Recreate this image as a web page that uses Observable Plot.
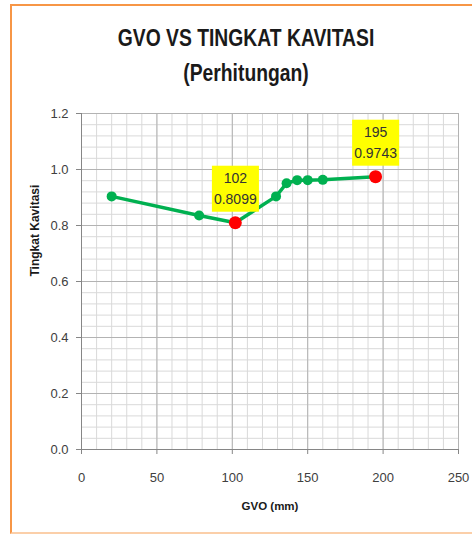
<!DOCTYPE html>
<html>
<head>
<meta charset="utf-8">
<script src="https://cdn.jsdelivr.net/npm/d3@7"></script>
<script src="https://cdn.jsdelivr.net/npm/@observablehq/plot@0.6"></script>
<style>
  html, body { margin: 0; padding: 0; background: #fff; overflow: hidden; }
  #wrap { position: relative; width: 472px; height: 538px; overflow: hidden; }
  #frame { position: absolute; left: 10px; top: 4px; width: 480px; height: 530px;
           border: 2px solid #f79646; border-bottom-color: #fbcfa9; box-sizing: border-box; }
  #chart { position: absolute; left: 0; top: 0; }
  .title { position: absolute; left: 0; width: 492px; text-align: center;
           font-family: "Liberation Sans", sans-serif; font-weight: bold;
           font-size: 23px; color: #1a1a1a; line-height: 1;
           transform: scaleX(0.84); transform-origin: 246px 0; }
</style>
</head>
<body>
<div id="wrap">
  <div id="frame"></div>
  <div id="chart"></div>
  <div class="title" style="top:27px">GVO VS TINGKAT KAVITASI</div>
  <div class="title" style="top:62px">(Perhitungan)</div>
</div>
<script>
const gvo = [20, 78, 102, 129, 136, 143, 150, 160, 195];
const tingkat = [0.904, 0.836, 0.8099, 0.904, 0.951, 0.962, 0.962, 0.963, 0.9743];
const highlightGVO = [102, 195];
const highlightTK = [0.8099, 0.9743];
const xTicks = [0, 50, 100, 150, 200, 250];
const yTicks = [0, 0.2, 0.4, 0.6, 0.8, 1.0, 1.2];
const xMinor = d3.range(0, 251, 10);
const yMinor = d3.range(0, 1.2001, 0.04);

const data = gvo.map((g, i) => ({gvo: g, tk: tingkat[i]}));
const hi = highlightGVO.map((g, i) => ({gvo: g, tk: highlightTK[i]}));

const fontFam = '"Liberation Sans", sans-serif';

const plot = Plot.plot({
  width: 472,
  height: 538,
  marginLeft: 81,
  marginRight: 14,
  marginTop: 113,
  marginBottom: 89,
  style: {fontFamily: fontFam, fontSize: "13px", color: "#404040", background: "transparent"},
  x: {domain: [0, 250], ticks: xTicks, tickSize: 5, tickPadding: 18, tickFormat: d3.format("d"), label: null},
  y: {domain: [0, 1.2], ticks: yTicks, tickSize: 5, tickPadding: 8, tickFormat: d3.format(".1f"), label: null},
  marks: [
    Plot.ruleX(xMinor, {stroke: "#d9d9d9", strokeWidth: 1}),
    Plot.ruleY(yMinor, {stroke: "#d9d9d9", strokeWidth: 1}),
    Plot.ruleX(xTicks, {stroke: "#b3b3b3", strokeWidth: 1}),
    Plot.ruleY(yTicks, {stroke: "#b3b3b3", strokeWidth: 1}),
    Plot.ruleX([0], {stroke: "#868686", strokeWidth: 1}),
    Plot.ruleY([0], {stroke: "#868686", strokeWidth: 1}),
    Plot.line(data, {x: "gvo", y: "tk", stroke: "#00b050", strokeWidth: 3.5}),
    Plot.dot(data, {x: "gvo", y: "tk", r: 5, fill: "#00b050", stroke: null}),
    Plot.dot(hi, {x: "gvo", y: "tk", r: 6.5, fill: "#ff0000", stroke: null}),
    Plot.text(hi, {x: "gvo", y: "tk", text: d => `${d.gvo}\n${d.tk}`, lineAnchor: "bottom",
      dy: -19, fontSize: 14, lineHeight: 1.5, fill: "#333"}),
    Plot.text(["GVO (mm)"], {frameAnchor: "bottom", dy: 60, fontWeight: "bold", fontSize: 11.5, fill: "#1a1a1a"}),
    Plot.text(["Tingkat Kavitasi"], {frameAnchor: "left", dx: -46, dy: -5, rotate: -90, fontWeight: "bold", fontSize: 12, fill: "#1a1a1a"})
  ]
});
document.getElementById("chart").appendChild(plot);

// yellow background boxes behind the two-line data labels
const svg = d3.select(plot);
svg.selectAll("text")
  .filter(function() { return this.querySelectorAll("tspan").length === 2; })
  .each(function() {
    const b = this.getBBox();
    const padX = 2, padY = 5;
    const rect = document.createElementNS("http://www.w3.org/2000/svg", "rect");
    this.parentNode.insertBefore(rect, this);
    d3.select(rect)
      .attr("x", b.x - padX).attr("y", b.y - padY + 1)
      .attr("width", b.width + 2 * padX).attr("height", b.height + 2 * padY - 1)
      .attr("fill", "#ffff00")
      .attr("transform", this.getAttribute("transform"));
  });
// axis tick colour
svg.selectAll('g[aria-label="x-axis tick"] path, g[aria-label="y-axis tick"] path').attr("stroke", "#868686");
</script>
</body>
</html>
